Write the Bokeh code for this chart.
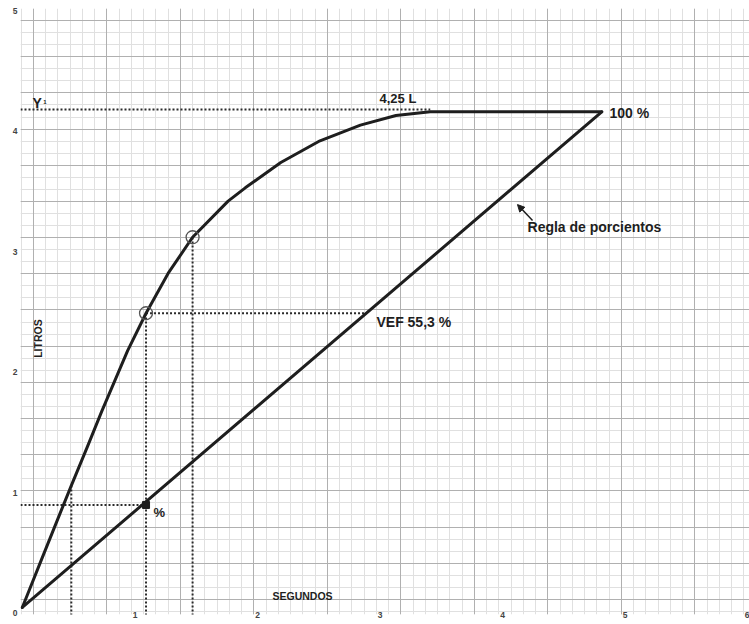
from bokeh.plotting import figure
from bokeh.models import Range1d, FixedTicker, Grid, Label, Arrow, NormalHead
from bokeh.embed import file_html
from bokeh.resources import INLINE
import numpy as np
import math

# ---- data (seconds / litres) ----
t_curve = [0.08, 0.23, 0.38, 0.48, 0.61, 0.73, 0.94, 1.09, 1.27, 1.47, 1.76, 1.90,
           2.19, 2.51, 2.84, 3.13, 3.41, 3.74, 4.81]
v_curve = [0.05, 0.43, 0.81, 1.06, 1.38, 1.68, 2.18, 2.49, 2.82, 3.12, 3.42, 3.53,
           3.74, 3.92, 4.05, 4.13, 4.16, 4.16, 4.16]

regla_t = [0.08, 4.81]          # "Regla de porcientos" (0 % -> 100 %)
regla_v = [0.05, 4.16]

y1_level = 4.18                 # Y1 = 4,25 L dotted reference
y1_dot_end = 3.41

circle_t = [1.09, 1.47]         # marked points on the curve
circle_v = [2.49, 3.12]

vef_t = 1.09                    # VEF1
vef_v = 2.49
vef_regla_t = 2.88              # where the VEF level meets the percent rule
pct_v = 0.90                    # percent read on the rule
early_t = 0.48
early_v = 1.06

x_ticks = [1, 2, 3, 4, 5, 6]
y_ticks = [0, 1, 2, 3, 4, 5]

FONT = "Liberation Sans"
INK = "#1e1e1e"

p = figure(width=749, height=624,
           x_range=Range1d(0.0653, 6.016), y_range=Range1d(-0.0083, 5.017),
           output_backend="svg", toolbar_location=None,
           min_border_left=20, min_border_right=0, min_border_top=8, min_border_bottom=10)

p.outline_line_color = None
p.background_fill_color = "white"
p.grid.grid_line_color = None

# graph-paper grid
minor_x = Grid(dimension=0, ticker=FixedTicker(ticks=[round(v, 3) for v in np.arange(0.071, 6.1, 0.1)]),
               grid_line_color="#e0e0e0", grid_line_width=1)
minor_y = Grid(dimension=1, ticker=FixedTicker(ticks=[round(v, 3) for v in np.arange(0.017, 5.1, 0.1)]),
               grid_line_color="#e0e0e0", grid_line_width=1)
major_x = Grid(dimension=0, ticker=FixedTicker(ticks=[round(v, 3) for v in np.arange(0.171, 6.1, 0.6)]),
               grid_line_color="#b0b0b0", grid_line_width=1)
major_y = Grid(dimension=1, ticker=FixedTicker(ticks=[round(4.917 - 0.3 * k, 3) for k in range(17)]),
               grid_line_color="#b0b0b0", grid_line_width=1)
for g in (minor_x, minor_y, major_x, major_y):
    p.add_layout(g)

# axes
for ax in (p.xaxis[0], p.yaxis[0]):
    ax.axis_line_color = None
    ax.major_tick_line_color = None
    ax.minor_tick_line_color = None
    ax.major_tick_out = 0
    ax.major_tick_in = 0
    ax.minor_tick_out = 0
    ax.minor_tick_in = 0
    ax.major_label_text_font = FONT
    ax.major_label_text_font_style = "bold"
    ax.major_label_text_font_size = "8.5px"
    ax.major_label_text_color = "#444444"
p.xaxis.ticker = FixedTicker(ticks=x_ticks)
p.yaxis.ticker = FixedTicker(ticks=y_ticks)
p.xaxis.major_label_standoff = -3
p.yaxis.major_label_standoff = 3

# dotted construction lines
dash = dict(line_color="#2a2a2a", line_width=2, line_dash="2 2")
p.segment(x0=[0.0], y0=[y1_level], x1=[y1_dot_end], y1=[y1_level], **dash)
p.segment(x0=[early_t, vef_t, circle_t[1]], y0=[-0.05, -0.05, -0.05],
          x1=[early_t, vef_t, circle_t[1]], y1=[early_v, vef_v, circle_v[1]], **dash)
p.segment(x0=[vef_t, 0.0], y0=[vef_v, pct_v], x1=[vef_regla_t, vef_t], y1=[vef_v, pct_v], **dash)

# curve and percent rule
p.line(t_curve, v_curve, line_color=INK, line_width=3, line_join="round", line_cap="round")
p.line(regla_t, regla_v, line_color=INK, line_width=3, line_cap="round")

p.scatter(circle_t, circle_v, marker="circle", size=13, fill_color=None, line_color="#555555", line_width=1.3)
p.scatter([vef_t], [pct_v], marker="square", size=7, fill_color=INK, line_color=INK)

p.add_layout(Arrow(end=NormalHead(size=7, fill_color=INK, line_color=INK),
                   x_start=4.245, y_start=3.259, x_end=4.122, y_end=3.391,
                   line_width=1.5, line_color=INK))

def lab(x, y, text, size="14px", align="left", baseline="middle", angle=0.0):
    p.add_layout(Label(x=x, y=y, text=text, text_font=FONT, text_font_style="bold",
                       text_font_size=size, text_color=INK, text_align=align,
                       text_baseline=baseline, angle=angle))

lab(0.163, 4.237, "Y", size="14px", baseline="alphabetic")
lab(0.250, 4.245, "1", size="6px", baseline="alphabetic")
lab(2.996, 4.27, "4,25 L", size="13px")
lab(4.873, 4.154, "100 %")
lab(4.204, 3.205, "Regla de porcientos")
lab(2.971, 2.421, "VEF 55,3 %")
lab(1.151, 0.837, "%", size="13px")
lab(2.122, 0.141, "SEGUNDOS", size="10.5px")
lab(0.212, 2.28, "LITROS", size="10.5px", align="center", angle=math.pi / 2)

open("out.html", "w").write(file_html(p, INLINE))
